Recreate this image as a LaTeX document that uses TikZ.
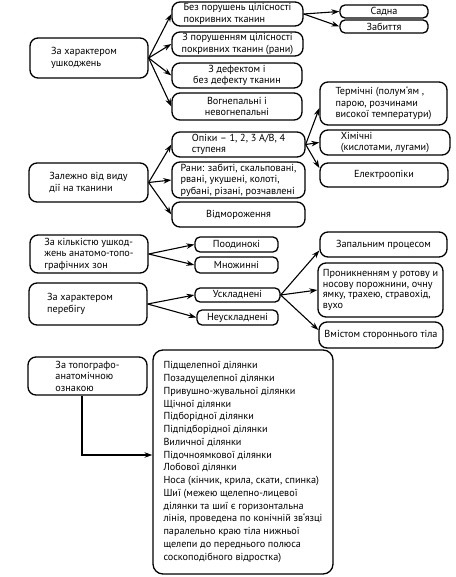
\documentclass[tikz,border=0pt]{standalone}
\usepackage{fontspec}
\setmainfont{PT Sans}
\usetikzlibrary{arrows.meta,calc}
\begin{document}
\begin{tikzpicture}[x=1pt,y=-1pt,
  bx/.style={draw, line width=1.3pt, rounded corners=8pt, inner sep=0pt,
    font=\fontsize{10.2}{11.5}\selectfont},
  sbx/.style={bx, rounded corners=5pt},
  arr/.style={-{Stealth[length=8pt,width=5.5pt]}, line width=1.1pt}]
\useasboundingbox (0,0) rectangle (455,577);
% left column
\node[bx, align=left, minimum width=118pt, minimum height=40pt] (L1) at (89,58) {За характером\hspace*{10pt}\\ушкоджень};
\node[bx, align=left, minimum width=119pt, minimum height=39pt] (L2) at (88.5,182.5) {Залежно від виду\\дії на тканини};
\node[bx, align=left, minimum width=118pt, minimum height=38pt] (L3) at (89,254) {За кількістю ушкод-\\жень анатомо-топо-\\графічних зон};
\node[bx, align=left, minimum width=118pt, minimum height=42pt] (L4) at (88,304) {За характером\hspace*{16pt}\\перебігу};
\node[bx, align=left, minimum width=119pt, minimum height=38pt] (L5) at (87.5,376) {За топографо-\\анатомічною\\ознакою};
% middle column
\node[bx, align=left, minimum width=131pt, minimum height=24pt] (M1) at (237.5,14) {Без порушень цілісності\\покривних тканин};
\node[bx, align=center, minimum width=131pt, minimum height=24pt] (M2) at (237.5,44) {З порушенням цілісності\\покривних тканин (рани)};
\node[bx, align=center, minimum width=130pt, minimum height=25pt] (M3) at (237,75.5) {З дефектом і\\без дефекту тканин};
\node[bx, align=center, minimum width=130pt, minimum height=27pt] (M4) at (237,106.5) {Вогнепальні і\\невогнепальні};
\node[bx, align=left, minimum width=133pt, minimum height=25pt] (M5) at (238.5,144.5) {Опіки – 1, 2, 3 А/В, 4\\ступеня};
\node[bx, align=left, minimum width=133pt, minimum height=36pt] (M6) at (238.5,180) {Рани: забиті, скальповані,\\рвані, укушені, колоті,\\рубані, різані, розчавлені};
\node[bx, align=center, minimum width=133pt, minimum height=25pt] (M7) at (238.5,214.5) {Відмороження};
\node[sbx, minimum width=83pt, minimum height=15pt] (M8) at (236.5,244.5) {Поодинокі};
\node[sbx, minimum width=83pt, minimum height=16pt] (M9) at (236.5,265) {Множинні};
\node[sbx, minimum width=85pt, minimum height=14pt] (M10) at (237.5,295) {Ускладнені};
\node[sbx, minimum width=81pt, minimum height=15pt] (M11) at (237.5,317.5) {Неускладнені};
\node[bx, rounded corners=10pt, align=left, minimum width=180pt, minimum height=224pt,
  font=\fontsize{10.2}{12.75}\selectfont] (B) at (243,462) {Підщелепної ділянки\\Позадущелепної ділянки\\Привушно-жувальної ділянки\\Щічної ділянки\\Підборідної ділянки\\Підпідборідної ділянки\\Виличної ділянки\\Підочноямкової ділянки\\Лобової ділянки\\Носа (кінчик, крила, скати, спинка)\\Шиї (межею щелепно-лицевої\\ділянки та шиї є горизонтальна\\лінія, проведена по конічній зв`язці\\паралельно краю тіла нижньої\\щелепи до переднього полюса\\соскоподібного відростка)};
% right column
\node[sbx, minimum width=88pt, minimum height=13pt] (R1) at (384,11.5) {Садна};
\node[sbx, minimum width=88pt, minimum height=13pt] (R2) at (384,26.5) {Забиття};
\node[bx, align=left, minimum width=127pt, minimum height=43pt] (R3) at (383.5,103.5) {Термічні (полум`ям ,\\парою, розчинами\\високої температури)};
\node[bx, align=left, minimum width=130pt, minimum height=25pt] (R4) at (385,142.5) {Хімічні\\(кислотами, лугами)};
\node[bx, align=center, minimum width=128pt, minimum height=24pt] (R5) at (384,175) {Електроопіки};
\node[bx, align=center, minimum width=127pt, minimum height=25pt] (R6) at (383.5,244.5) {Запальним процесом};
\node[bx, align=left, minimum width=125pt, minimum height=54pt,
  font=\fontsize{10.2}{10.8}\selectfont] (R7) at (380.5,290) {Проникненням у ротову и\\носову порожнини, очну\\ямку, трахею, стравохід,\\вухо};
\node[bx, align=center, minimum width=124pt, minimum height=26pt] (R8) at (381,335) {Вмістом стороннього тіла};
% connectors
\foreach \t in {M1,M2,M3,M4} \draw[arr] (L1.east) -- (\t.west);
\draw[arr] (M1.east) -- (R1.west);
\draw[arr] (M1.east) -- (R2.west);
\foreach \t in {M5,M6,M7} \draw[arr] (L2.east) -- (\t.west);
\draw[arr] (M5.east) -- ([yshift=-4.5pt]R3.west);
\draw[arr] (M5.east) -- (R4.west);
\draw[arr] (M5.east) -- ([yshift=7pt]R5.west);
\draw[arr] (L3.east) -- (M8.west);
\draw[arr] (L3.east) -- (M9.west);
\draw[arr] (L4.east) -- (M10.west);
\draw[arr] (L4.east) -- (M11.west);
\draw[arr] (M10.east) -- ([yshift=-6pt]R6.west);
\draw[arr] (M10.east) -- (R7.west);
\draw[arr] (M10.east) -- ([yshift=5pt]R8.west);
\draw[arr] ([xshift=-5.5pt]L5.south) |- ([yshift=7pt]B.west);
\end{tikzpicture}
\end{document}
